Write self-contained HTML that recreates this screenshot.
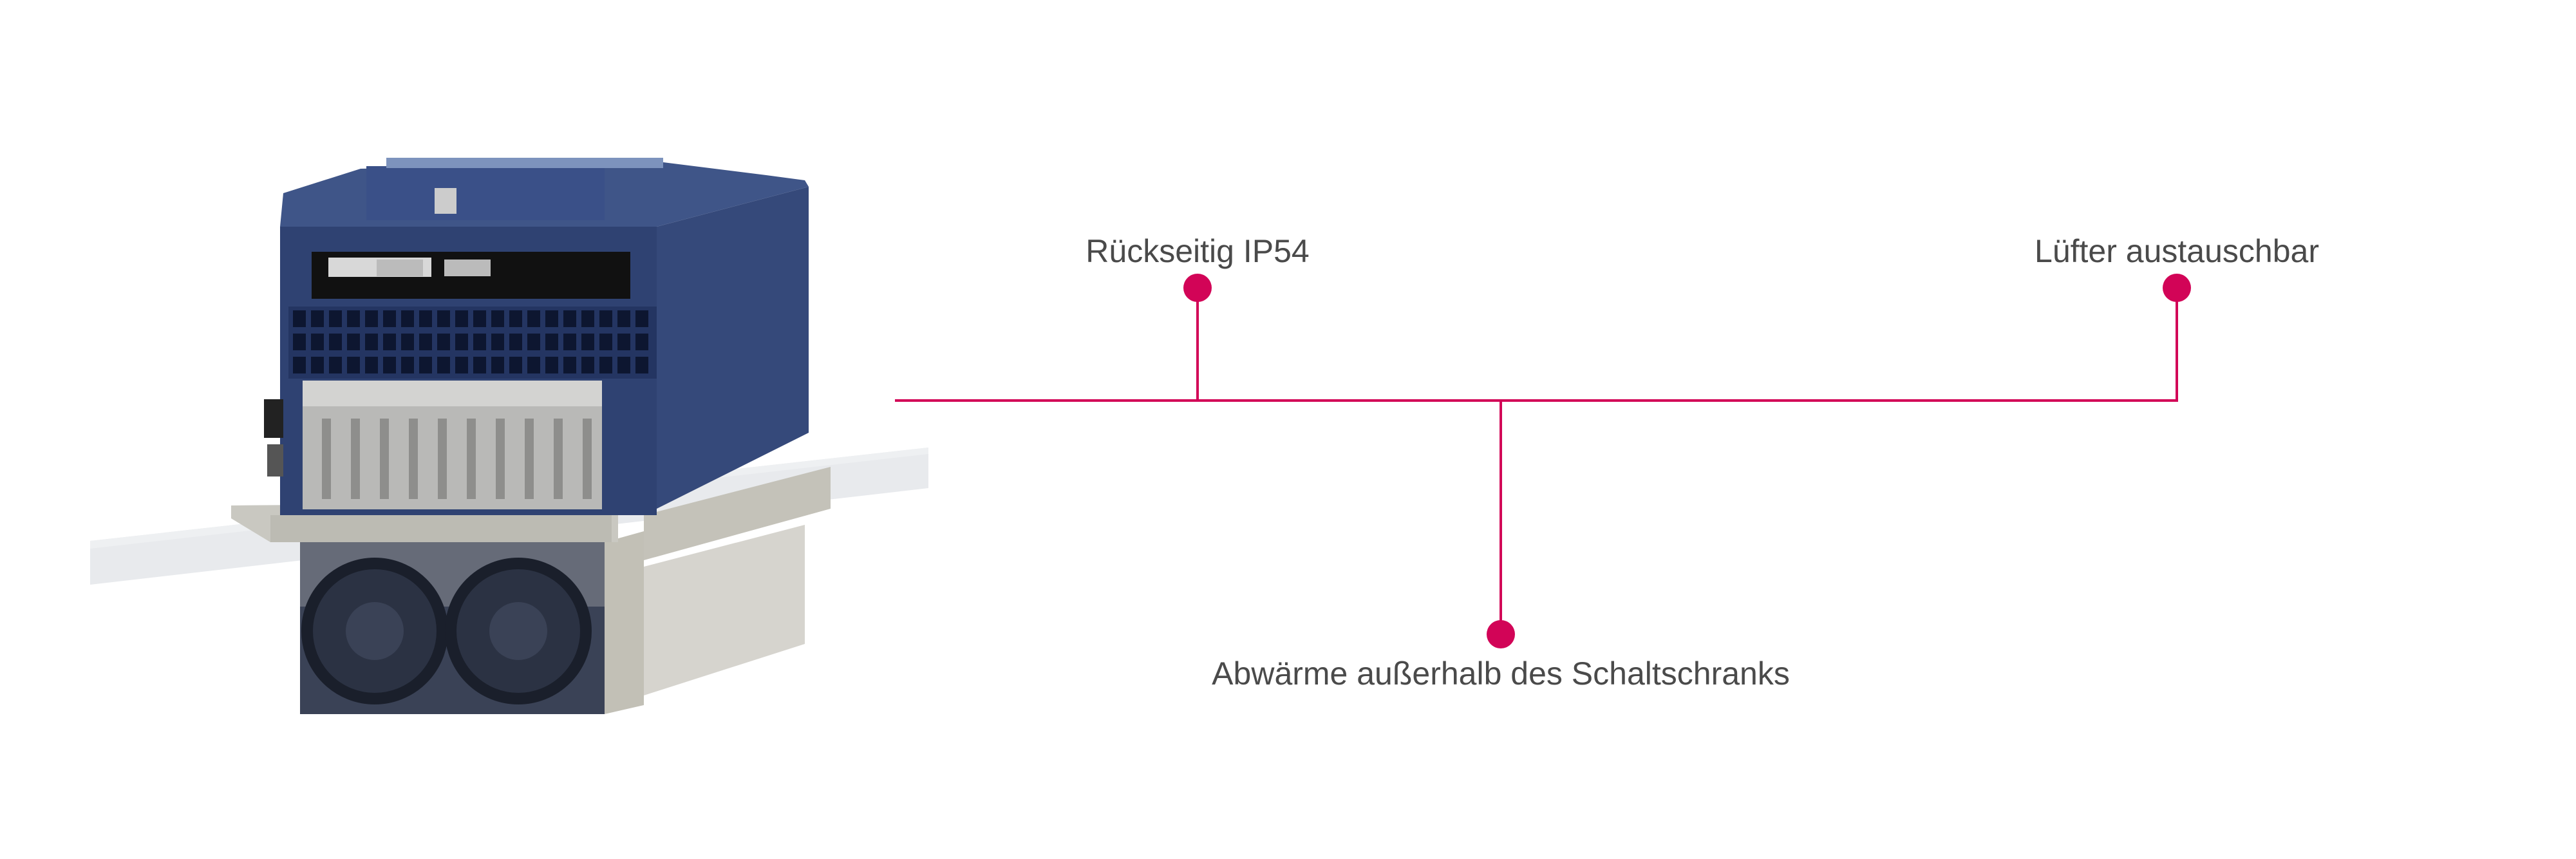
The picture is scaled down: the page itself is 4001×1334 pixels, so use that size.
<!DOCTYPE html>
<html><head><meta charset="utf-8">
<style>
html,body{margin:0;padding:0;background:#fff;}
body{width:4001px;height:1334px;position:relative;overflow:hidden;font-family:"Liberation Sans",sans-serif;}
.lbl{position:absolute;color:#4a4a4a;font-size:50px;line-height:1;white-space:nowrap;transform:translateX(-50%);}
</style></head><body>
<svg width="4001" height="1334" style="position:absolute;left:0;top:0">
  <!-- glass plate -->
  <polygon points="140,840 1442,695 1442,758 140,908" fill="#e4e6ea" opacity="0.85"/>
  <polygon points="140,840 1442,695 1442,705 140,852" fill="#eef0f2"/>
  <!-- heatsink rails behind -->
  <polygon points="1000,800 1290,725 1290,790 1000,870" fill="#c4c2b9"/>
  <polygon points="1000,880 1250,815 1250,1000 1000,1080" fill="#cfcdc5" opacity="0.85"/>
  <!-- heatsink metal side -->
  <polygon points="939,842 1000,825 1000,1095 939,1109" fill="#c2c0b6"/>
  <!-- fan housing -->
  <rect x="466" y="842" width="473" height="267" fill="#3a4256"/>
  <rect x="466" y="842" width="473" height="100" fill="#8a8e96" opacity="0.55"/>
  <circle cx="582" cy="980" r="105" fill="#2b3243" stroke="#1a1f2b" stroke-width="18"/>
  <circle cx="805" cy="980" r="105" fill="#2b3243" stroke="#1a1f2b" stroke-width="18"/>
  <circle cx="582" cy="980" r="45" fill="#3a4256"/>
  <circle cx="805" cy="980" r="45" fill="#3a4256"/>
  <!-- flange -->
  <polygon points="359,785 940,780 960,795 960,842 420,842 359,805" fill="#c9c8c1"/>
  <rect x="420" y="800" width="530" height="42" fill="#bcbbb3"/>
  <!-- body right side -->
  <polygon points="1020,352 1256,290 1256,672 1020,790" fill="#35497a"/>
  <!-- top face -->
  <polygon points="435,352 1020,352 1256,290 1250,280 1190,272 1030,252 560,262 440,300" fill="#3f5588"/>
  <!-- front face -->
  <rect x="435" y="352" width="585" height="448" fill="#2f4272"/>
  <!-- top module -->
  <rect x="569" y="258" width="370" height="84" fill="#3a5088"/>
  <rect x="675" y="292" width="34" height="40" fill="#ccc"/>
  <rect x="600" y="245" width="430" height="16" fill="#7d93bd"/>
  <!-- connector slot -->
  <rect x="484" y="391" width="495" height="73" fill="#111"/>
  <rect x="510" y="400" width="160" height="30" fill="#d8d8d8"/>
  <rect x="585" y="403" width="72" height="26" fill="#bbb"/>
  <rect x="690" y="403" width="72" height="26" fill="#bbb"/>
  <!-- vent grid -->
  <rect x="448" y="476" width="572" height="112" fill="#243562"/>
  <g id="vents" fill="#0d1630"></g>
  <!-- terminal block -->
  <rect x="470" y="591" width="465" height="200" fill="#b9b9b7"/>
  <rect x="470" y="591" width="465" height="40" fill="#d3d3d1"/>
  <g fill="#8e8e8c">
    <rect x="500" y="650" width="14" height="125"/><rect x="545" y="650" width="14" height="125"/>
    <rect x="590" y="650" width="14" height="125"/><rect x="635" y="650" width="14" height="125"/>
    <rect x="680" y="650" width="14" height="125"/><rect x="725" y="650" width="14" height="125"/>
    <rect x="770" y="650" width="14" height="125"/><rect x="815" y="650" width="14" height="125"/>
    <rect x="860" y="650" width="14" height="125"/><rect x="905" y="650" width="14" height="125"/>
  </g>
  <rect x="410" y="620" width="30" height="60" fill="#222"/>
  <rect x="415" y="690" width="25" height="50" fill="#555"/>
  <!-- connectors -->
  <g stroke="#d20457" stroke-width="4" fill="none">
    <line x1="1390" y1="622" x2="3383" y2="622"/>
    <line x1="1860" y1="447" x2="1860" y2="622"/>
    <line x1="3381" y1="447" x2="3381" y2="622"/>
    <line x1="2331" y1="622" x2="2331" y2="985"/>
  </g>
  <g fill="#d20457">
    <circle cx="1860" cy="447" r="22"/>
    <circle cx="3381" cy="447" r="22"/>
    <circle cx="2331" cy="985" r="22"/>
  </g>
</svg>
<script>
var g=document.getElementById('vents'),s='';
for(var r=0;r<3;r++)for(var c=0;c<20;c++){s+='<rect x="'+(455+c*28)+'" y="'+(482+r*36)+'" width="20" height="26"/>';}
g.innerHTML=s;
</script>
<div class="lbl" style="left:1860px;top:365px;">Rückseitig IP54</div>
<div class="lbl" style="left:3381px;top:365px;">Lüfter austauschbar</div>
<div class="lbl" style="left:2331px;top:1021px;">Abwärme außerhalb des Schaltschranks</div>
</body></html>
